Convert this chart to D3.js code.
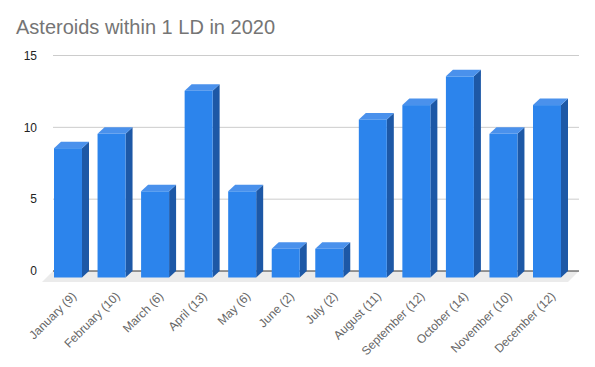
<!DOCTYPE html>
<html>
<head>
<style>
  body { margin: 0; background: #fff; }
  svg { display: block; font-family: "Liberation Sans", Arial, sans-serif; }
</style>
</head>
<body>
<div id="chart"></div>
<script src="https://d3js.org/d3.v7.min.js"></script>
<script>
// data
var months = ["January", "February", "March", "April", "May", "June",
              "July", "August", "September", "October", "November", "December"];
var counts = [9, 10, 6, 13, 6, 2, 2, 11, 12, 14, 10, 12];
var yTicks = [0, 5, 10, 15];

var W = 595, H = 367;
// 3d offset of the back plane vs. the front faces
var depthX = 7, depthY = 6.5;

var svg = d3.select("#chart").append("svg")
    .attr("width", W)
    .attr("height", H);

var labels = months.map(function(m, i) { return m + " (" + counts[i] + ")"; });

// x = front face of each bar
var x = d3.scaleBand()
    .domain(labels)
    .range([54, 561])
    .paddingInner(0.357)
    .paddingOuter(0);

// y = back plane (gridlines)
var y = d3.scaleLinear()
    .domain([0, 15])
    .range([271, 55.5]);

var gridLeft = 53, gridRight = 579;

// title
svg.append("text")
    .attr("x", 16)
    .attr("y", 34)
    .attr("font-size", "20px")
    .attr("fill", "#757575")
    .text("Asteroids within 1 LD in 2020");

// floor slab
var floorDepth = 11;
svg.append("polygon")
    .attr("points", [
      [gridLeft, y(0)], [gridRight, y(0)],
      [gridRight - floorDepth, y(0) + floorDepth], [gridLeft - floorDepth, y(0) + floorDepth]
    ].join(" "))
    .attr("fill", "#ebebeb");

// gridlines
svg.append("g").selectAll("line")
    .data(yTicks.filter(function(d) { return d > 0; }))
    .enter().append("line")
      .attr("x1", gridLeft).attr("x2", gridRight)
      .attr("y1", function(d) { return y(d); })
      .attr("y2", function(d) { return y(d); })
      .attr("stroke", "#cccccc")
      .attr("stroke-width", 1);

svg.append("line")
    .attr("x1", gridLeft).attr("x2", gridRight)
    .attr("y1", y(0)).attr("y2", y(0))
    .attr("stroke", "#333333")
    .attr("stroke-width", 1);

// y tick labels
svg.append("g").selectAll("text")
    .data(yTicks)
    .enter().append("text")
      .attr("x", 37)
      .attr("y", function(d) { return y(d); })
      .attr("dy", "0.35em")
      .attr("text-anchor", "end")
      .attr("font-size", "12px")
      .attr("fill", "#222222")
      .text(function(d) { return d; });

// bars
var bw = x.bandwidth();
var bars = svg.append("g").selectAll("g")
    .data(counts)
    .enter().append("g");

// side face
bars.append("polygon")
    .attr("fill", "#1d58a6")
    .attr("points", function(d, i) {
      var x0 = x(labels[i]) + bw, top = y(d) + depthY, bot = y(0) + depthY;
      return [[x0, top], [x0 + depthX, top - depthY], [x0 + depthX, bot - depthY], [x0, bot]].join(" ");
    });

// top face
bars.append("polygon")
    .attr("fill", "#4a91ec")
    .attr("points", function(d, i) {
      var x0 = x(labels[i]), top = y(d) + depthY;
      return [[x0, top], [x0 + depthX, top - depthY], [x0 + bw + depthX, top - depthY], [x0 + bw, top]].join(" ");
    });

// front face
bars.append("rect")
    .attr("fill", "#2c84ec")
    .attr("x", function(d, i) { return x(labels[i]); })
    .attr("y", function(d) { return y(d) + depthY; })
    .attr("width", bw)
    .attr("height", function(d) { return y(0) - y(d); });

// x labels
svg.append("g").selectAll("text")
    .data(labels)
    .enter().append("text")
      .attr("text-anchor", "end")
      .attr("font-size", "12px")
      .attr("fill", "#666666")
      .attr("transform", function(d) {
        return "translate(" + (x(d) + bw / 2 + 9) + ",297) rotate(-45)";
      })
      .text(function(d) { return d; });
</script>
</body>
</html>
